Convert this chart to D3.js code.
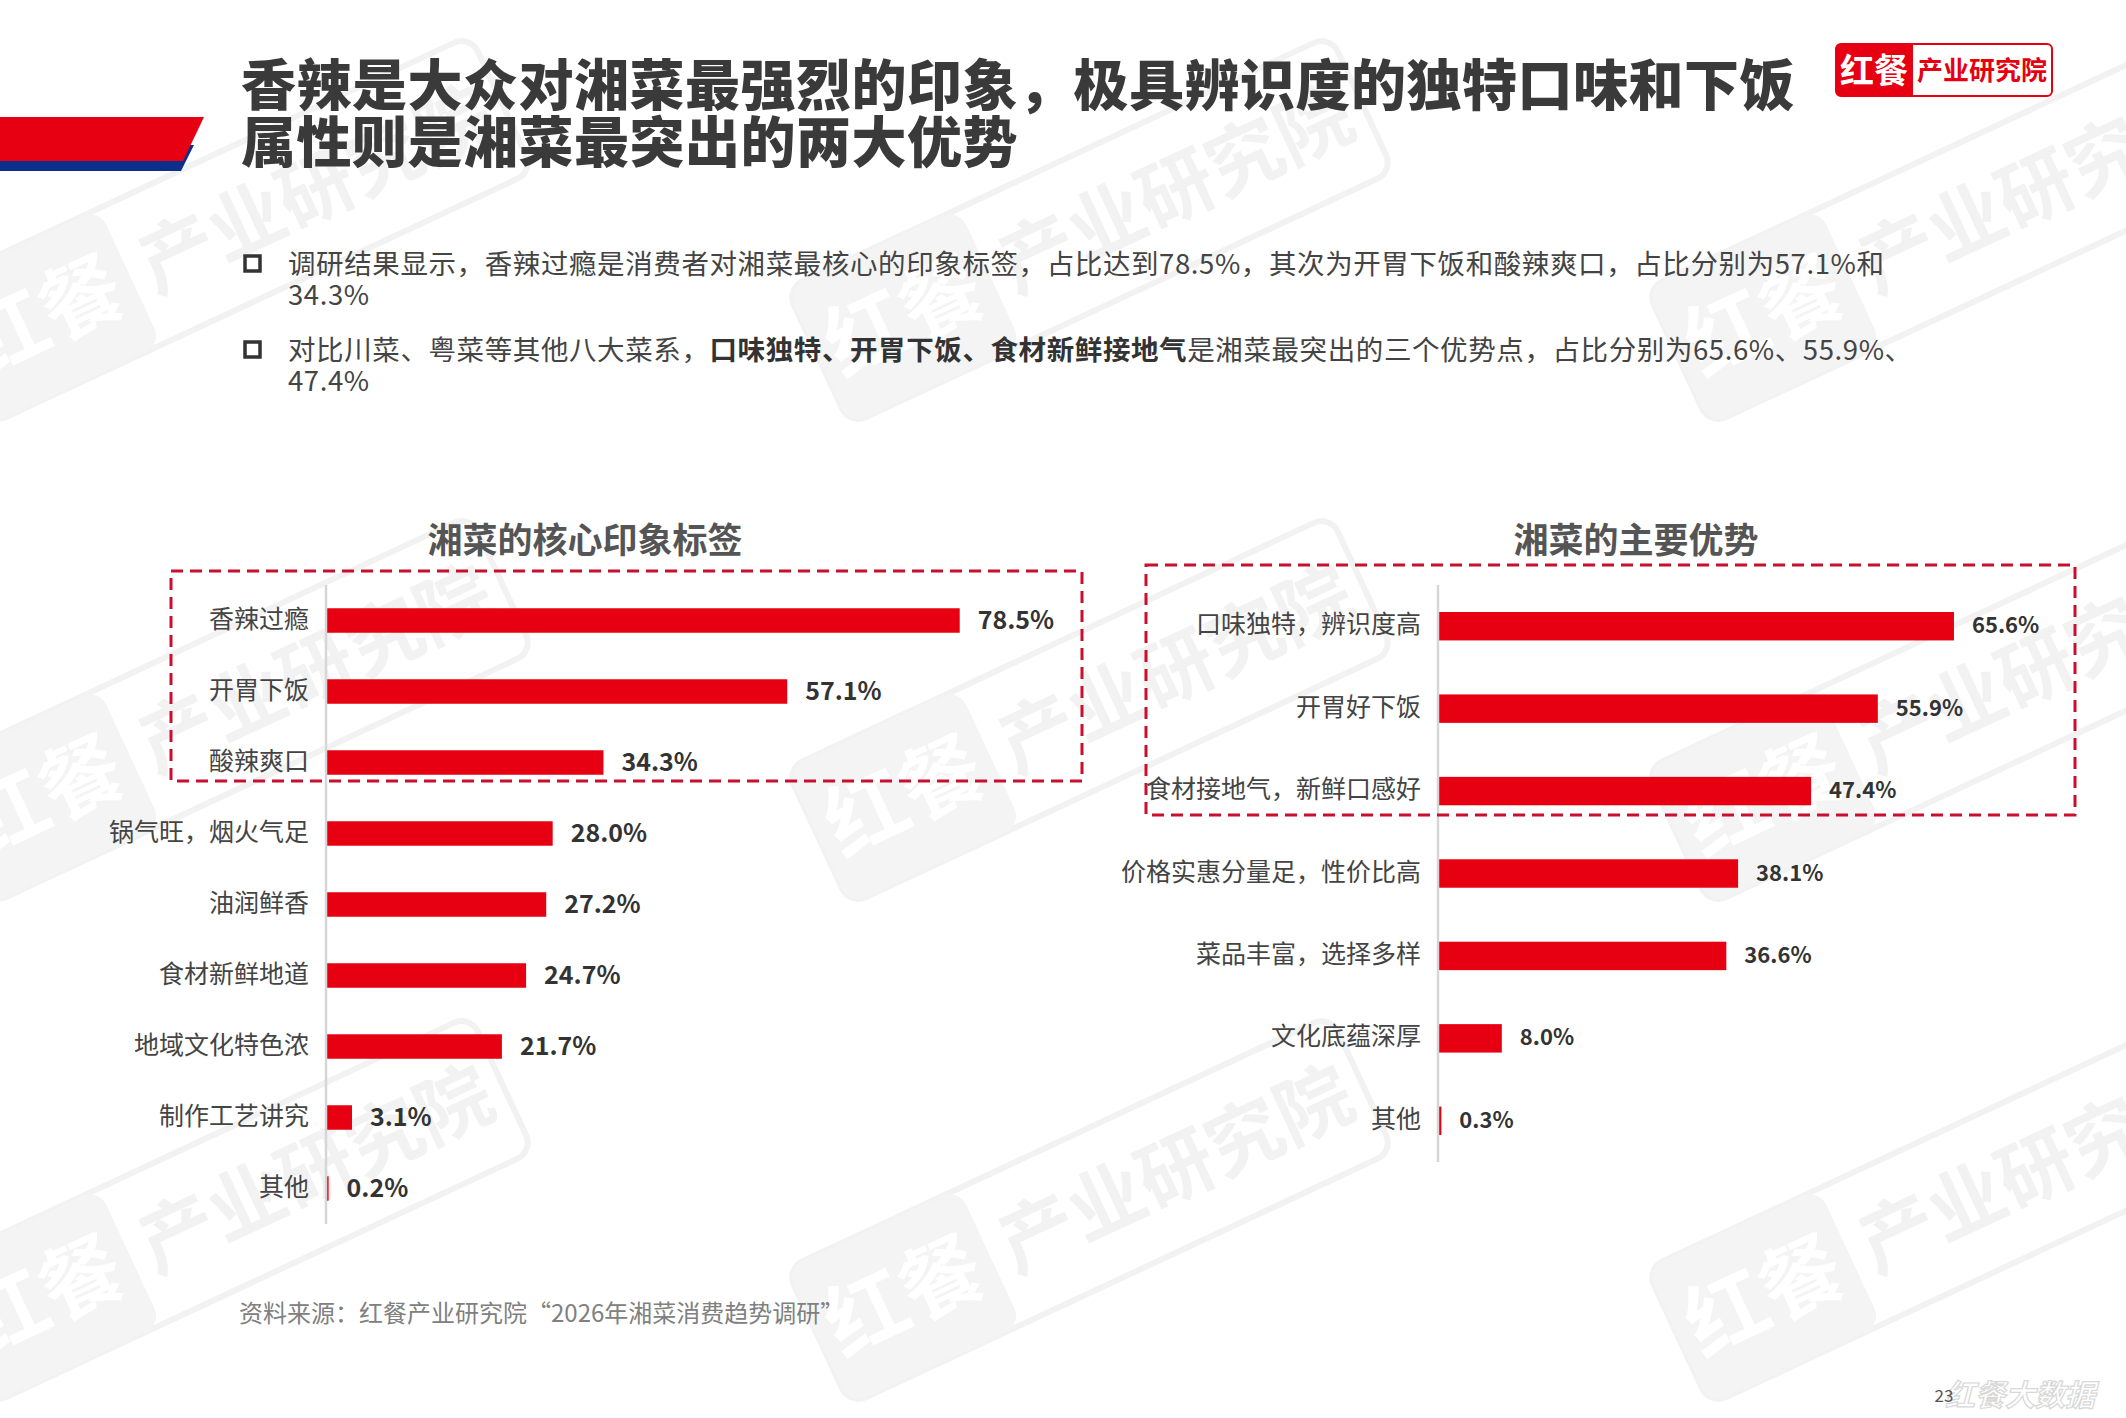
<!DOCTYPE html>
<html>
<head>
<meta charset="utf-8">
<script src="https://cdn.jsdelivr.net/npm/d3@7"></script>
<style>
  html, body { margin: 0; padding: 0; background: #fff; }
  svg { display: block; font-family: "Noto Sans CJK SC", "Noto Sans", sans-serif; }
</style>
</head>
<body>
<svg id="chart" width="2126" height="1418"></svg>
<script>
// ── DATA ─────────────────────────────────────────────────────────────────────
const titleLines = ['香辣是大众对湘菜最强烈的印象，极具辨识度的独特口味和下饭', '属性则是湘菜最突出的两大优势'];

const leftTitle = '湘菜的核心印象标签';
const leftCats = ['香辣过瘾', '开胃下饭', '酸辣爽口', '锅气旺，烟火气足', '油润鲜香', '食材新鲜地道', '地域文化特色浓', '制作工艺讲究', '其他'];
const leftVals = [78.5, 57.1, 34.3, 28.0, 27.2, 24.7, 21.7, 3.1, 0.2];

const rightTitle = '湘菜的主要优势';
const rightCats = ['口味独特，辨识度高', '开胃好下饭', '食材接地气，新鲜口感好', '价格实惠分量足，性价比高', '菜品丰富，选择多样', '文化底蕴深厚', '其他'];
const rightVals = [65.6, 55.9, 47.4, 38.1, 36.6, 8.0, 0.3];

const source = '资料来源：红餐产业研究院“2026年湘菜消费趋势调研”';

// ── SETUP ────────────────────────────────────────────────────────────────────
const RED = '#e60012';
const svg = d3.select('#chart');
const fmt = d3.format('.1f');

// faint diagonal watermarks in the background
const wmLayer = svg.append('g').attr('class', 'watermarks');
[230, 1090, 1950].forEach(cx => {
  [230, 710, 1210].forEach(cy => {
    const w = wmLayer.append('g').attr('transform', `translate(${cx},${cy}) rotate(-25)`);
    w.append('rect').attr('x', -300).attr('y', -75).attr('width', 600).attr('height', 150)
      .attr('rx', 18).attr('fill', 'none').attr('stroke', '#f2f2f2').attr('stroke-width', 6);
    w.append('rect').attr('x', -300).attr('y', -75).attr('width', 190).attr('height', 150)
      .attr('rx', 18).attr('fill', '#f4f4f4');
    w.append('text').attr('x', -205).attr('y', 0).attr('dy', '0.35em').attr('text-anchor', 'middle')
      .attr('font-size', 82).attr('font-weight', 700).attr('fill', '#fff').text('红餐');
    w.append('text').attr('x', 95).attr('y', 0).attr('dy', '0.35em').attr('text-anchor', 'middle')
      .attr('font-size', 76).attr('font-weight', 700).attr('fill', '#f2f2f2').text('产业研究院');
  });
});

// ── HEADER ───────────────────────────────────────────────────────────────────
svg.append('polygon').attr('points', '0,145 194,145 181,171 0,171').attr('fill', '#0d2f8c');
svg.append('polygon').attr('points', '0,117 204,117 183,161 0,161').attr('fill', RED);

svg.append('g').selectAll('text').data(titleLines).join('text')
  .attr('x', 241).attr('y', (d, i) => 80.5 + i * 57.5)
  .attr('dominant-baseline', 'central')
  .attr('font-size', 55).attr('font-weight', 900).attr('fill', '#3a3a3a')
  .attr('letter-spacing', 0.5)
  .text(d => d);

// logo
const logo = svg.append('g');
logo.append('rect').attr('x', 1836).attr('y', 44).attr('width', 216).attr('height', 52)
  .attr('rx', 5).attr('fill', '#fff').attr('stroke', RED).attr('stroke-width', 2);
logo.append('path').attr('d', 'M1913,44 H1841 a5,5 0 0 0 -5,5 V91 a5,5 0 0 0 5,5 H1913 Z').attr('fill', RED);
logo.append('text').attr('x', 1874).attr('y', 68).attr('dominant-baseline', 'central')
  .attr('text-anchor', 'middle').attr('font-size', 34).attr('font-weight', 700).attr('fill', '#fff').text('红餐');
logo.append('text').attr('x', 1982).attr('y', 68).attr('dominant-baseline', 'central')
  .attr('text-anchor', 'middle').attr('font-size', 26).attr('font-weight', 700).attr('fill', RED).text('产业研究院');

// bullets
const bullets = [
  { y: 262, lines: [[{ t: '调研结果显示，香辣过瘾是消费者对湘菜最核心的印象标签，占比达到78.5%，其次为开胃下饭和酸辣爽口，占比分别为57.1%和' }], [{ t: '34.3%' }]] },
  { y: 348, lines: [[{ t: '对比川菜、粤菜等其他八大菜系，' }, { t: '口味独特、开胃下饭、食材新鲜接地气', b: true }, { t: '是湘菜最突出的三个优势点，占比分别为65.6%、55.9%、' }], [{ t: '47.4%' }]] }
];
bullets.forEach(b => {
  svg.append('rect').attr('x', 245).attr('y', b.y - 6).attr('width', 15).attr('height', 15)
    .attr('fill', 'none').attr('stroke', '#333').attr('stroke-width', 3.5);
  b.lines.forEach((line, i) => {
    const t = svg.append('text').attr('x', 288).attr('y', b.y + i * 30.5)
      .attr('dominant-baseline', 'central').attr('font-size', 27.5).attr('fill', '#444')
      .attr('letter-spacing', 0.6);
    line.forEach(seg => {
      t.append('tspan').attr('font-weight', seg.b ? 700 : 400).attr('fill', seg.b ? '#333' : '#444').text(seg.t);
    });
  });
});

// ── CHARTS ───────────────────────────────────────────────────────────────────
function barChart(opt) {
  const g = svg.append('g');
  const y = d3.scaleBand().domain(opt.cats).range(opt.yRange).paddingInner(0.655).paddingOuter(0.3275);
  const x = d3.scaleLinear().domain([0, 100]).range([opt.x0, opt.x0 + opt.perPct * 100]);

  g.append('text').attr('x', opt.titleX).attr('y', 537).attr('dominant-baseline', 'central')
    .attr('text-anchor', 'middle').attr('font-size', 35).attr('font-weight', 700).attr('fill', '#555')
    .text(opt.title);

  g.selectAll('rect.bar').data(opt.vals).join('rect').attr('class', 'bar')
    .attr('x', x(0)).attr('y', (d, i) => y(opt.cats[i]))
    .attr('width', d => x(d) - x(0)).attr('height', y.bandwidth())
    .attr('fill', RED);

  // category axis
  const axis = g.append('g').attr('transform', `translate(${x(0) - 1},0)`)
    .call(d3.axisLeft(y).tickSize(0).tickPadding(17));
  axis.select('.domain').attr('stroke', '#d6d6d6').attr('stroke-width', 2.5)
    .attr('d', `M0,${opt.yRange[0]}V${opt.yRange[1]}`);
  axis.selectAll('.tick text').attr('font-size', 25).attr('fill', '#444').attr('dy', '0.28em')
    .attr('font-family', '"Noto Sans CJK SC", sans-serif');

  g.selectAll('text.val').data(opt.vals).join('text').attr('class', 'val')
    .attr('x', d => x(d) + 18).attr('y', (d, i) => y(opt.cats[i]) + y.bandwidth() / 2 - 3)
    .attr('dominant-baseline', 'central').attr('font-size', opt.valSize).attr('font-weight', 700)
    .attr('fill', '#333').text(d => fmt(d) + '%');

  g.append('rect').attr('x', opt.box[0]).attr('y', opt.box[1])
    .attr('width', opt.box[2] - opt.box[0]).attr('height', opt.box[3] - opt.box[1])
    .attr('fill', 'none').attr('stroke', '#c8102e').attr('stroke-width', 3)
    .attr('stroke-dasharray', '12,7');
}

barChart({
  title: leftTitle, titleX: 585, cats: leftCats, vals: leftVals,
  yRange: [585, 1224], x0: 327, perPct: 8.06, valSize: 25,
  box: [171, 571, 1082, 781]
});

barChart({
  title: rightTitle, titleX: 1636, cats: rightCats, vals: rightVals,
  yRange: [585, 1162], x0: 1439, perPct: 7.85, valSize: 22,
  box: [1146, 565, 2075, 815]
});

// ── FOOTER ───────────────────────────────────────────────────────────────────
svg.append('text').attr('x', 239).attr('y', 1311).attr('dominant-baseline', 'central')
  .attr('font-size', 24).attr('fill', '#808080').text(source);

svg.append('text').attr('x', 2095).attr('y', 1393).attr('dominant-baseline', 'central')
  .attr('text-anchor', 'end').attr('font-size', 30).attr('font-weight', 700).attr('font-style', 'italic')
  .attr('fill', 'none').attr('stroke', '#d8d8d8').attr('stroke-width', 1.2).text('红餐大数据');
svg.append('text').attr('x', 1944).attr('y', 1394).attr('dominant-baseline', 'central')
  .attr('text-anchor', 'middle').attr('font-size', 17).attr('fill', '#555').text('23');
</script>
</body>
</html>
